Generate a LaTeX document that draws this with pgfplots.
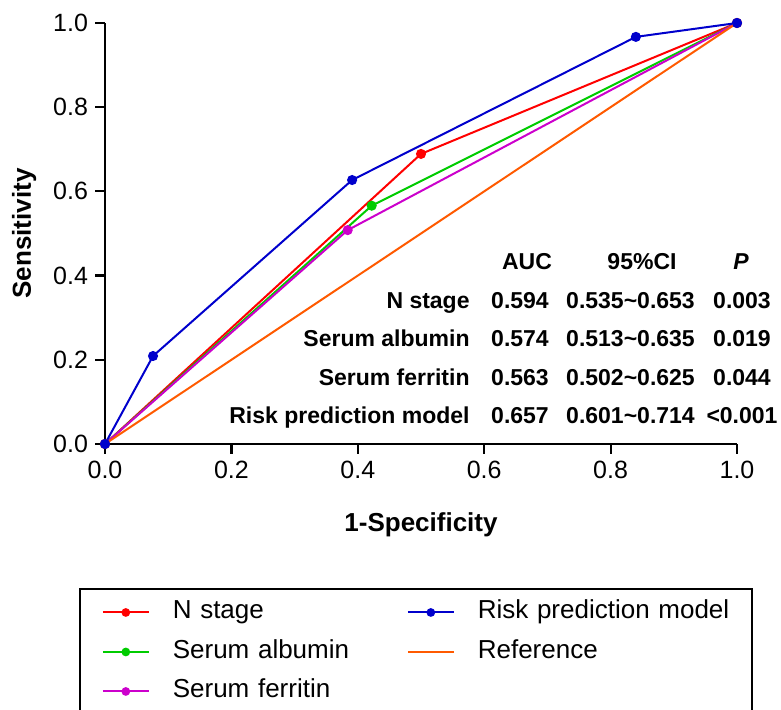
\documentclass[border=0pt]{standalone}
\usepackage{pgfplots}
\pgfplotsset{compat=1.18}
\usepackage{fontspec}
\setmainfont{Liberation Sans}

\definecolor{cN}{HTML}{FF0000}
\definecolor{cAlb}{HTML}{00CC00}
\definecolor{cFer}{HTML}{CC00CC}
\definecolor{cRisk}{HTML}{0000CC}
\definecolor{cRef}{HTML}{FF5A00}

\begin{document}
\begin{tikzpicture}[x=0.5pt,y=0.5pt]
\path[use as bounding box] (0,0) rectangle (781,710);
\begin{axis}[
  at={(52.5pt,133pt)}, anchor=south west,
  scale only axis, width=316pt, height=210.5pt,
  xmin=0, xmax=1, ymin=0, ymax=1,
  axis x line*=bottom, axis y line*=left,
  axis line style={line width=1.1pt},
  tick style={line width=1.1pt, black},
  tick align=outside, major tick length=5pt,
  xtick={0,0.2,0.4,0.6,0.8,1}, ytick={0,0.2,0.4,0.6,0.8,1},
  ticklabel style={font=\fontsize{12.5}{14}\selectfont},
  /pgf/number format/.cd, fixed, fixed zerofill, precision=1, assume math mode=true,
  /pgfplots/.cd,
  xlabel={1-Specificity}, ylabel={Sensitivity},
  label style={font=\fontsize{13}{15}\selectfont\bfseries},
  xlabel style={at={(axis description cs:0.5,-0.191)}, anchor=center},
  ylabel style={at={(axis description cs:-0.128,0.5)}, anchor=center},
  clip=false,
  legend image code/.code={
    \draw[mark repeat=2, mark phase=2, #1, mark size=1.65pt]
      plot coordinates {(0pt,0pt) (11.5pt,0pt) (23pt,0pt)};},
  transpose legend, legend columns=3, legend cell align=left,
  legend style={at={(axis description cs:-0.0411,-0.342)}, anchor=north west,
    draw=black, line width=0.8pt, font=\fontsize{13}{15}\selectfont,
    inner xsep=11pt, inner ysep=5.6pt, column sep=11.5pt, row sep=7.25pt,
    nodes={inner sep=0pt, text height=9.5pt, text depth=3pt}},
]
\addplot[cN, line width=1pt, mark=*, mark size=2pt]
  coordinates {(0,0) (0.500,0.689) (1,1)};
\addlegendentry[text width=105.5pt]{N stage}
\addplot[cAlb, line width=1pt, mark=*, mark size=2pt]
  coordinates {(0,0) (0.422,0.566) (1,1)};
\addlegendentry[text width=105.5pt]{Serum albumin}
\addplot[cFer, line width=1pt, mark=*, mark size=2pt]
  coordinates {(0,0) (0.384,0.508) (1,1)};
\addlegendentry[text width=105.5pt]{Serum ferritin}
\addplot[cRisk, line width=1pt, mark=*, mark size=2pt]
  coordinates {(0,0) (0.076,0.209) (0.391,0.627) (0.840,0.967) (1,1)};
\addlegendentry[text width=126pt]{Risk prediction model}
\addplot[cRef, line width=1pt]
  coordinates {(0,0) (1,1)};
\addlegendentry[text width=126pt]{Reference}
\end{axis}

% AUC table inside the plot
\begin{scope}[every node/.style={inner sep=0pt, font=\fontsize{11.5}{13}\selectfont\bfseries}]
\node[anchor=base] at (527,440) {AUC};
\node[anchor=base] at (642,440) {95\%CI};
\node[anchor=base] at (741,440) {\itshape P};
\node[anchor=base east] at (470,401.5) {N stage};
\node[anchor=base east] at (470,363) {Serum albumin};
\node[anchor=base east] at (470,324.5) {Serum ferritin};
\node[anchor=base east] at (470,286) {Risk prediction model};
\node[anchor=base] at (520,401.5) {0.594};
\node[anchor=base] at (520,363) {0.574};
\node[anchor=base] at (520,324.5) {0.563};
\node[anchor=base] at (520,286) {0.657};
\node[anchor=base] at (630.5,401.5) {0.535\textasciitilde0.653};
\node[anchor=base] at (630.5,363) {0.513\textasciitilde0.635};
\node[anchor=base] at (630.5,324.5) {0.502\textasciitilde0.625};
\node[anchor=base] at (630.5,286) {0.601\textasciitilde0.714};
\node[anchor=base] at (742,401.5) {0.003};
\node[anchor=base] at (742,363) {0.019};
\node[anchor=base] at (742,324.5) {0.044};
\node[anchor=base] at (742,286) {<0.001};
\end{scope}
\end{tikzpicture}
\end{document}
